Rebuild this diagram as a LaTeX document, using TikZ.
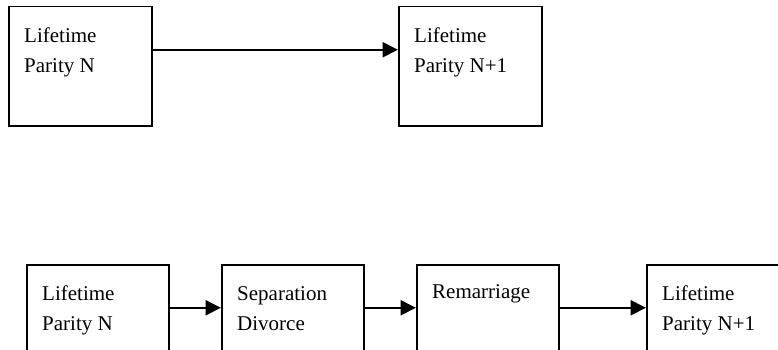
\documentclass[tikz,border=0pt]{standalone}
\usepackage{fontspec}
\setmainfont{Liberation Serif}
\usetikzlibrary{arrows.meta}
\begin{document}
\begin{tikzpicture}[x=1pt,y=1pt,
  box/.style={draw=black, line width=1.5pt, minimum width=143pt, minimum height=119pt, inner sep=0pt, anchor=north west},
  lowbox/.style={box, minimum width=142pt, minimum height=125pt},
  txt/.style={font=\fontsize{21}{31}\selectfont, inner sep=0pt, anchor=base west},
  arr/.style={line width=2pt, -{Triangle[length=15.5pt,width=15pt]}}]
\useasboundingbox (0,0) rectangle (778,349);
% top row
\node[box] (t1) at (8,343) {};
\node[box] (t2) at (398,343) {};
\node[txt] (t1a) at ([xshift=16pt,yshift=-36pt]t1.north west) {Lifetime};
\node[txt] (t1b) at ([yshift=-30pt]t1a.base west) {Parity N};
\node[txt] (t2a) at ([xshift=16pt,yshift=-36pt]t2.north west) {Lifetime};
\node[txt] (t2b) at ([yshift=-30pt]t2a.base west) {Parity N+1};
\draw[arr] ([yshift=16.5pt]t1.east) -- ([yshift=16.5pt]t2.west);
% bottom row
\node[lowbox] (b1) at (26,85) {};
\node[lowbox] (b2) at (221,85) {};
\node[lowbox] (b3) at (416,85) {};
\node[lowbox] (b4) at (646,85) {};
\node[txt] (b1a) at ([xshift=16pt,yshift=-36pt]b1.north west) {Lifetime};
\node[txt] (b1b) at ([yshift=-30pt]b1a.base west) {Parity N};
\node[txt] (b2a) at ([xshift=16pt,yshift=-36pt]b2.north west) {Separation};
\node[txt] (b2b) at ([yshift=-30pt]b2a.base west) {Divorce};
\node[txt] (b3a) at ([xshift=16pt,yshift=-34pt]b3.north west) {Remarriage};
\node[txt] (b4a) at ([xshift=16pt,yshift=-36pt]b4.north west) {Lifetime};
\node[txt] (b4b) at ([yshift=-30pt]b4a.base west) {Parity N+1};
\draw[arr] ([yshift=19.5pt]b1.east) -- ([yshift=19.5pt]b2.west);
\draw[arr] ([yshift=19.5pt]b2.east) -- ([yshift=19.5pt]b3.west);
\draw[arr] ([yshift=19.5pt]b3.east) -- ([yshift=19.5pt]b4.west);
\end{tikzpicture}
\end{document}
